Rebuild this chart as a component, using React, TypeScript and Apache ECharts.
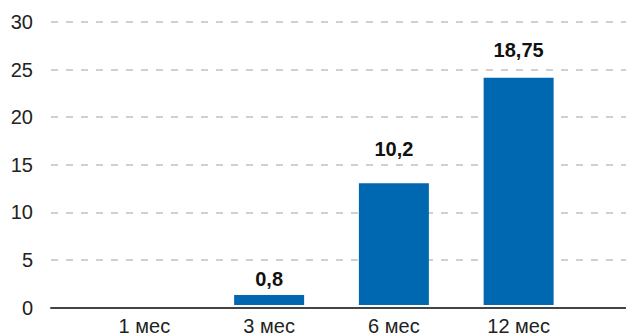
import React, { useEffect, useRef } from "react";
import * as echarts from "echarts";

const categories = ["1 мес", "3 мес", "6 мес", "12 мес"];
const barValues = [0, 1.05, 12.9, 24.1];
const barLabels = ["", "0,8", "10,2", "18,75"];
const labelGaps = [0, 6, 24, 18];
const yTicks = { min: 0, max: 30, interval: 5 };

export default function App() {
  const ref = useRef<HTMLDivElement>(null);
  useEffect(() => {
    if (!ref.current) return;
    const chart = echarts.init(ref.current, null, { renderer: "svg" });
    const font = "'Liberation Sans', Arial, Helvetica, sans-serif";
    chart.setOption({
      animation: false,
      grid: [
        { left: 51, right: 0, top: 22, bottom: 28.5 },
        { left: 82, width: 499, top: 22, bottom: 28.5 },
      ],
      xAxis: [
        {
          gridIndex: 0,
          type: "category",
          data: [""],
          axisLine: { show: true, lineStyle: { color: "#444", width: 2 } },
          axisTick: { show: false },
          axisLabel: { show: false },
        },
        {
          gridIndex: 1,
          type: "category",
          data: categories,
          axisLine: { show: false },
          axisTick: { show: false },
          axisLabel: { color: "#222", fontSize: 20, fontFamily: font, margin: 11 },
        },
      ],
      yAxis: [
        {
          gridIndex: 0,
          type: "value",
          min: yTicks.min,
          max: yTicks.max,
          interval: yTicks.interval,
          axisLine: { show: false },
          axisTick: { show: false },
          axisLabel: { color: "#222", fontSize: 20, fontFamily: font, margin: 18 },
          splitLine: {
            show: true,
            lineStyle: { color: "#d0d0d0", width: 2, type: [7, 8] },
          },
        },
        {
          gridIndex: 1,
          type: "value",
          min: yTicks.min,
          max: yTicks.max,
          interval: yTicks.interval,
          show: false,
          splitLine: { show: false },
        },
      ],
      series: [
        {
          type: "bar",
          xAxisIndex: 1,
          yAxisIndex: 1,
          barWidth: 70,
          itemStyle: { color: "#0067b1" },
          data: barValues.map((v, i) => ({
            value: v,
            label: {
              show: barLabels[i] !== "",
              position: "top",
              distance: labelGaps[i],
              formatter: () => barLabels[i],
              fontSize: 20,
              fontWeight: "bold",
              color: "#111",
              fontFamily: font,
            },
          })),
        },
      ],
    });
    return () => chart.dispose();
  }, []);
  return <div ref={ref} style={{ width: 626, height: 336, position: "absolute", left: 0, top: 0 }} />;
}
